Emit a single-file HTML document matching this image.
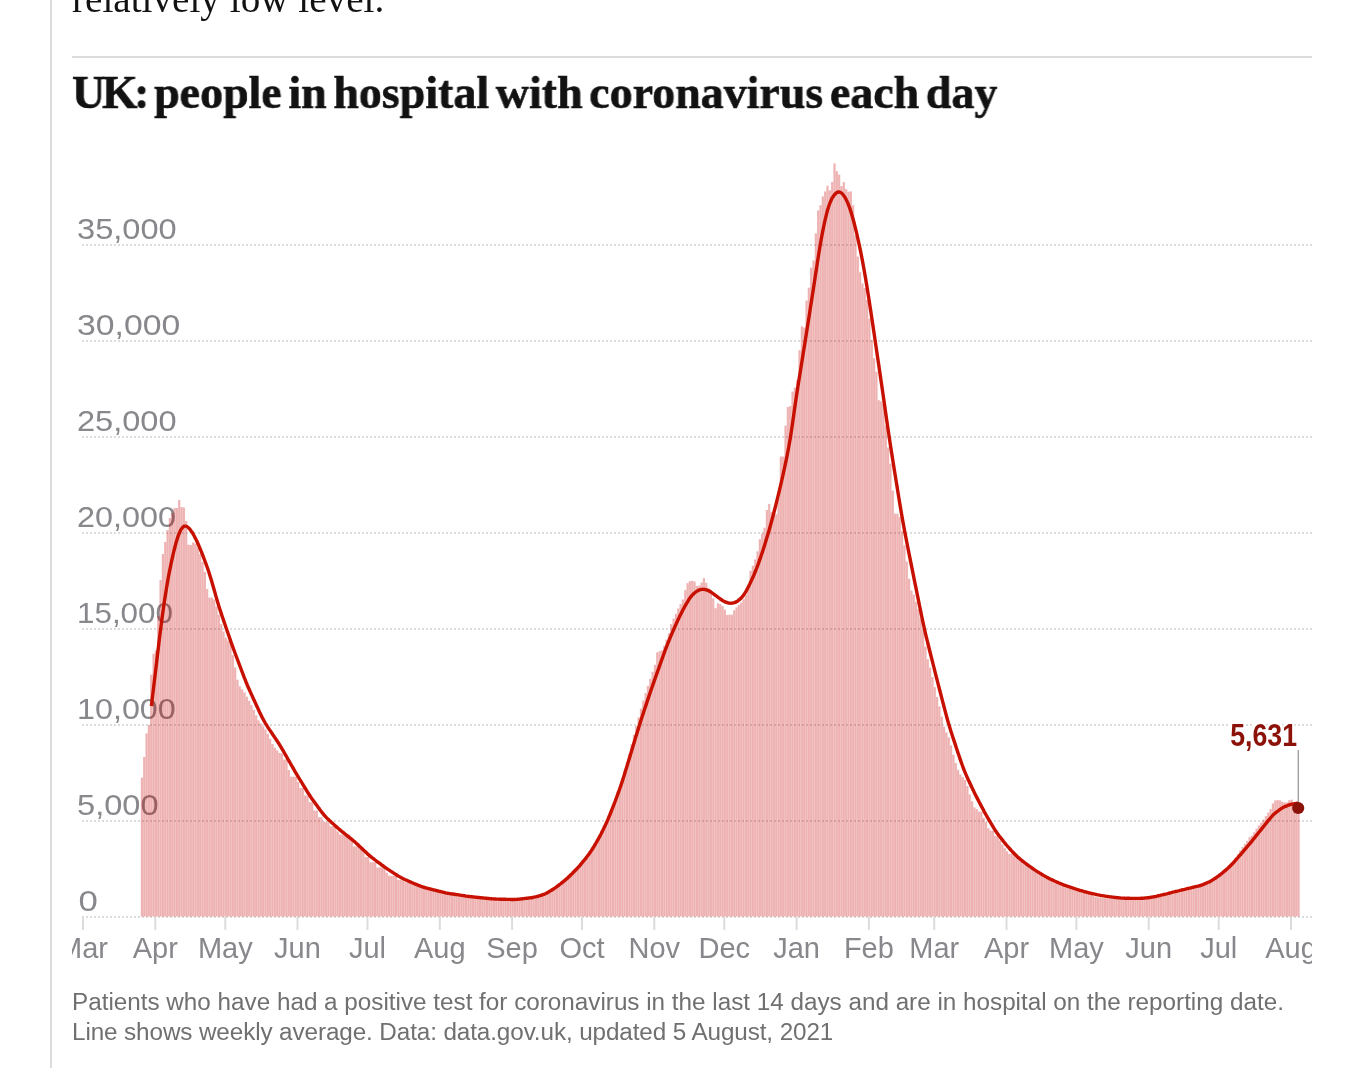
<!DOCTYPE html>
<html><head><meta charset="utf-8"><style>
html,body{margin:0;padding:0;background:#fff;}
body{width:1372px;height:1068px;overflow:hidden;position:relative;}
.vline{position:absolute;left:50px;top:0;width:2px;height:1068px;background:#dcdcdc;}
.top{position:absolute;left:72px;top:-26.5px;font-family:"Liberation Serif",serif;font-size:39.2px;color:#121212;white-space:nowrap;line-height:50px;will-change:transform;}
.rule{position:absolute;left:72px;top:56px;width:1240px;height:2px;background:#dcdcdc;}
.title{position:absolute;left:72px;top:67px;font-family:"Liberation Serif",serif;font-weight:bold;font-size:47px;color:#121212;white-space:nowrap;line-height:50px;transform-origin:0 0;transform:scaleX(0.978);word-spacing:-5px;-webkit-text-stroke:0.6px #121212;will-change:transform;}
.cap{position:absolute;left:72px;top:986.5px;font-family:"Liberation Sans",sans-serif;font-size:24.25px;color:#707070;white-space:nowrap;line-height:30px;will-change:transform;}
svg{position:absolute;left:0;top:0;will-change:transform;}
</style></head><body>
<div class="vline"></div>
<div class="top">relatively low level.</div>
<div class="rule"></div>
<div class="title"><span style="letter-spacing:-3.5px">UK</span><span style="word-spacing:-7px">: </span>people in hospital with coronavirus each day</div>
<svg width="1372" height="1068" viewBox="0 0 1372 1068">
<defs><clipPath id="cl"><rect x="72" y="120" width="1240" height="860"/></clipPath></defs>
<g clip-path="url(#cl)">
<g stroke="#dcdcdc" stroke-width="2" stroke-dasharray="2 2"><line x1="82" y1="917.0" x2="1312" y2="917.0"/><line x1="82" y1="821.0" x2="1312" y2="821.0"/><line x1="82" y1="725.0" x2="1312" y2="725.0"/><line x1="82" y1="629.0" x2="1312" y2="629.0"/><line x1="82" y1="533.0" x2="1312" y2="533.0"/><line x1="82" y1="437.0" x2="1312" y2="437.0"/><line x1="82" y1="341.0" x2="1312" y2="341.0"/><line x1="82" y1="245.0" x2="1312" y2="245.0"/></g>
<g fill="#88878c" font-family="Liberation Sans, sans-serif" font-size="29"><text x="78.5" y="911.5" transform="translate(78.5 0) scale(1.2 1) translate(-78.5 0)">0</text><text x="77" y="815.5" transform="translate(77 0) scale(1.125 1) translate(-77 0)">5,000</text><text x="77" y="719.5" transform="translate(77 0) scale(1.114 1) translate(-77 0)">10,000</text><text x="77" y="623.5" transform="translate(77 0) scale(1.082 1) translate(-77 0)">15,000</text><text x="77" y="527.5" transform="translate(77 0) scale(1.118 1) translate(-77 0)">20,000</text><text x="77" y="431.5" transform="translate(77 0) scale(1.123 1) translate(-77 0)">25,000</text><text x="77" y="335.5" transform="translate(77 0) scale(1.165 1) translate(-77 0)">30,000</text><text x="77" y="239.5" transform="translate(77 0) scale(1.125 1) translate(-77 0)">35,000</text></g>
<g fill="#c70000" fill-opacity="0.3"><rect x="140.80" y="777.7" width="2.18" height="138.8"/><rect x="143.13" y="757.0" width="2.18" height="159.5"/><rect x="145.46" y="733.4" width="2.18" height="183.1"/><rect x="147.80" y="725.0" width="2.18" height="191.5"/><rect x="150.13" y="674.7" width="2.18" height="241.8"/><rect x="152.46" y="653.7" width="2.18" height="262.8"/><rect x="154.79" y="650.4" width="2.18" height="266.1"/><rect x="157.12" y="616.0" width="2.18" height="300.5"/><rect x="159.46" y="580.0" width="2.18" height="336.5"/><rect x="161.79" y="554.0" width="2.18" height="362.5"/><rect x="164.12" y="542.0" width="2.18" height="374.5"/><rect x="166.45" y="530.0" width="2.18" height="386.5"/><rect x="168.78" y="518.0" width="2.18" height="398.5"/><rect x="171.12" y="513.0" width="2.18" height="403.5"/><rect x="173.45" y="508.0" width="2.18" height="408.5"/><rect x="175.78" y="508.0" width="2.18" height="408.5"/><rect x="178.11" y="500.0" width="2.18" height="416.5"/><rect x="180.44" y="507.0" width="2.18" height="409.5"/><rect x="182.78" y="507.5" width="2.18" height="409.0"/><rect x="185.11" y="521.0" width="2.18" height="395.5"/><rect x="187.44" y="544.6" width="2.18" height="371.9"/><rect x="189.77" y="545.0" width="2.18" height="371.5"/><rect x="192.10" y="542.5" width="2.18" height="374.0"/><rect x="194.44" y="543.5" width="2.18" height="373.0"/><rect x="196.77" y="547.7" width="2.18" height="368.8"/><rect x="199.10" y="554.0" width="2.18" height="362.5"/><rect x="201.43" y="562.0" width="2.18" height="354.5"/><rect x="203.76" y="572.0" width="2.18" height="344.5"/><rect x="206.10" y="589.0" width="2.18" height="327.5"/><rect x="208.43" y="597.6" width="2.18" height="318.9"/><rect x="210.76" y="597.6" width="2.18" height="318.9"/><rect x="213.09" y="599.4" width="2.18" height="317.1"/><rect x="215.42" y="606.6" width="2.18" height="309.9"/><rect x="217.76" y="614.7" width="2.18" height="301.8"/><rect x="220.09" y="624.1" width="2.18" height="292.4"/><rect x="222.42" y="631.5" width="2.18" height="285.0"/><rect x="224.75" y="637.7" width="2.18" height="278.8"/><rect x="227.08" y="640.7" width="2.18" height="275.8"/><rect x="229.42" y="643.0" width="2.18" height="273.5"/><rect x="231.75" y="655.1" width="2.18" height="261.4"/><rect x="234.08" y="667.4" width="2.18" height="249.1"/><rect x="236.41" y="679.7" width="2.18" height="236.8"/><rect x="238.74" y="686.3" width="2.18" height="230.2"/><rect x="241.08" y="689.3" width="2.18" height="227.2"/><rect x="243.41" y="692.4" width="2.18" height="224.1"/><rect x="245.74" y="696.7" width="2.18" height="219.8"/><rect x="248.07" y="700.9" width="2.18" height="215.6"/><rect x="250.40" y="705.1" width="2.18" height="211.4"/><rect x="252.74" y="710.0" width="2.18" height="206.5"/><rect x="255.07" y="715.4" width="2.18" height="201.1"/><rect x="257.40" y="720.3" width="2.18" height="196.2"/><rect x="259.73" y="723.4" width="2.18" height="193.1"/><rect x="262.06" y="726.5" width="2.18" height="190.0"/><rect x="264.40" y="729.6" width="2.18" height="186.9"/><rect x="266.73" y="733.8" width="2.18" height="182.7"/><rect x="269.06" y="738.9" width="2.18" height="177.6"/><rect x="271.39" y="744.1" width="2.18" height="172.4"/><rect x="273.72" y="747.8" width="2.18" height="168.7"/><rect x="276.06" y="750.3" width="2.18" height="166.2"/><rect x="278.39" y="752.9" width="2.18" height="163.6"/><rect x="280.72" y="753.5" width="2.18" height="163.0"/><rect x="283.05" y="759.5" width="2.18" height="157.0"/><rect x="285.38" y="759.5" width="2.18" height="157.0"/><rect x="287.72" y="770.0" width="2.18" height="146.5"/><rect x="290.05" y="776.7" width="2.18" height="139.8"/><rect x="292.38" y="776.7" width="2.18" height="139.8"/><rect x="294.71" y="776.7" width="2.18" height="139.8"/><rect x="297.04" y="782.0" width="2.18" height="134.5"/><rect x="299.38" y="788.0" width="2.18" height="128.5"/><rect x="301.71" y="788.0" width="2.18" height="128.5"/><rect x="304.04" y="795.5" width="2.18" height="121.0"/><rect x="306.37" y="795.5" width="2.18" height="121.0"/><rect x="308.70" y="802.2" width="2.18" height="114.3"/><rect x="311.04" y="802.2" width="2.18" height="114.3"/><rect x="313.37" y="810.5" width="2.18" height="106.0"/><rect x="315.70" y="810.5" width="2.18" height="106.0"/><rect x="318.03" y="817.2" width="2.18" height="99.3"/><rect x="320.36" y="817.2" width="2.18" height="99.3"/><rect x="322.70" y="821.7" width="2.18" height="94.8"/><rect x="325.03" y="821.7" width="2.18" height="94.8"/><rect x="327.36" y="821.7" width="2.18" height="94.8"/><rect x="329.69" y="826.2" width="2.18" height="90.3"/><rect x="332.02" y="826.2" width="2.18" height="90.3"/><rect x="334.36" y="826.2" width="2.18" height="90.3"/><rect x="336.69" y="831.5" width="2.18" height="85.0"/><rect x="339.02" y="834.5" width="2.18" height="82.0"/><rect x="341.35" y="834.5" width="2.18" height="82.0"/><rect x="343.68" y="834.5" width="2.18" height="82.0"/><rect x="346.02" y="834.5" width="2.18" height="82.0"/><rect x="348.35" y="834.5" width="2.18" height="82.0"/><rect x="350.68" y="839.0" width="2.18" height="77.5"/><rect x="353.01" y="846.4" width="2.18" height="70.1"/><rect x="355.34" y="846.4" width="2.18" height="70.1"/><rect x="357.68" y="846.4" width="2.18" height="70.1"/><rect x="360.01" y="846.4" width="2.18" height="70.1"/><rect x="362.34" y="849.4" width="2.18" height="67.1"/><rect x="364.67" y="857.0" width="2.18" height="59.5"/><rect x="367.00" y="857.0" width="2.18" height="59.5"/><rect x="369.34" y="862.2" width="2.18" height="54.3"/><rect x="371.67" y="862.2" width="2.18" height="54.3"/><rect x="374.00" y="862.2" width="2.18" height="54.3"/><rect x="376.33" y="867.4" width="2.18" height="49.1"/><rect x="378.66" y="867.4" width="2.18" height="49.1"/><rect x="381.00" y="867.4" width="2.18" height="49.1"/><rect x="383.33" y="867.4" width="2.18" height="49.1"/><rect x="385.66" y="872.7" width="2.18" height="43.8"/><rect x="387.99" y="875.7" width="2.18" height="40.8"/><rect x="390.32" y="875.7" width="2.18" height="40.8"/><rect x="392.66" y="875.7" width="2.18" height="40.8"/><rect x="394.99" y="875.7" width="2.18" height="40.8"/><rect x="397.32" y="879.9" width="2.18" height="36.6"/><rect x="399.65" y="879.8" width="2.18" height="36.7"/><rect x="401.98" y="880.7" width="2.18" height="35.8"/><rect x="404.32" y="881.6" width="2.18" height="34.9"/><rect x="406.65" y="882.5" width="2.18" height="34.0"/><rect x="408.98" y="883.4" width="2.18" height="33.1"/><rect x="411.31" y="884.3" width="2.18" height="32.2"/><rect x="413.64" y="885.1" width="2.18" height="31.4"/><rect x="415.98" y="886.0" width="2.18" height="30.5"/><rect x="418.31" y="886.9" width="2.18" height="29.6"/><rect x="420.64" y="887.7" width="2.18" height="28.8"/><rect x="422.97" y="888.5" width="2.18" height="28.0"/><rect x="425.30" y="889.1" width="2.18" height="27.4"/><rect x="427.64" y="889.6" width="2.18" height="26.9"/><rect x="429.97" y="890.2" width="2.18" height="26.3"/><rect x="432.30" y="890.8" width="2.18" height="25.7"/><rect x="434.63" y="891.4" width="2.18" height="25.1"/><rect x="436.96" y="892.0" width="2.18" height="24.5"/><rect x="439.30" y="892.5" width="2.18" height="24.0"/><rect x="441.63" y="893.1" width="2.18" height="23.4"/><rect x="443.96" y="893.7" width="2.18" height="22.8"/><rect x="446.29" y="894.2" width="2.18" height="22.3"/><rect x="448.62" y="894.6" width="2.18" height="21.9"/><rect x="450.96" y="894.9" width="2.18" height="21.6"/><rect x="453.29" y="895.3" width="2.18" height="21.2"/><rect x="455.62" y="895.6" width="2.18" height="20.9"/><rect x="457.95" y="896.0" width="2.18" height="20.5"/><rect x="460.28" y="896.3" width="2.18" height="20.2"/><rect x="462.62" y="896.7" width="2.18" height="19.8"/><rect x="464.95" y="897.0" width="2.18" height="19.5"/><rect x="467.28" y="897.4" width="2.18" height="19.1"/><rect x="469.61" y="897.7" width="2.18" height="18.8"/><rect x="471.94" y="897.9" width="2.18" height="18.6"/><rect x="474.28" y="898.1" width="2.18" height="18.4"/><rect x="476.61" y="898.4" width="2.18" height="18.1"/><rect x="478.94" y="898.6" width="2.18" height="17.9"/><rect x="481.27" y="898.9" width="2.18" height="17.6"/><rect x="483.60" y="899.1" width="2.18" height="17.4"/><rect x="485.94" y="899.3" width="2.18" height="17.2"/><rect x="488.27" y="899.6" width="2.18" height="16.9"/><rect x="490.60" y="899.8" width="2.18" height="16.7"/><rect x="492.93" y="900.0" width="2.18" height="16.5"/><rect x="495.26" y="900.1" width="2.18" height="16.4"/><rect x="497.60" y="900.1" width="2.18" height="16.4"/><rect x="499.93" y="900.2" width="2.18" height="16.3"/><rect x="502.26" y="900.3" width="2.18" height="16.2"/><rect x="504.59" y="900.3" width="2.18" height="16.2"/><rect x="506.92" y="900.4" width="2.18" height="16.1"/><rect x="509.26" y="900.4" width="2.18" height="16.1"/><rect x="511.59" y="900.5" width="2.18" height="16.0"/><rect x="513.92" y="900.6" width="2.18" height="15.9"/><rect x="516.25" y="900.2" width="2.18" height="16.3"/><rect x="518.58" y="898.7" width="2.18" height="17.8"/><rect x="520.92" y="898.3" width="2.18" height="18.2"/><rect x="523.25" y="898.0" width="2.18" height="18.5"/><rect x="525.58" y="897.8" width="2.18" height="18.7"/><rect x="527.91" y="897.5" width="2.18" height="19.0"/><rect x="530.24" y="897.3" width="2.18" height="19.2"/><rect x="532.58" y="897.0" width="2.18" height="19.5"/><rect x="534.91" y="896.3" width="2.18" height="20.2"/><rect x="537.24" y="895.5" width="2.18" height="21.0"/><rect x="539.57" y="894.7" width="2.18" height="21.8"/><rect x="541.90" y="893.8" width="2.18" height="22.7"/><rect x="544.24" y="893.0" width="2.18" height="23.5"/><rect x="546.57" y="891.4" width="2.18" height="25.1"/><rect x="548.90" y="889.9" width="2.18" height="26.6"/><rect x="551.23" y="888.3" width="2.18" height="28.2"/><rect x="553.56" y="886.8" width="2.18" height="29.7"/><rect x="555.90" y="885.1" width="2.18" height="31.4"/><rect x="558.23" y="883.2" width="2.18" height="33.3"/><rect x="560.56" y="881.2" width="2.18" height="35.3"/><rect x="562.89" y="879.2" width="2.18" height="37.3"/><rect x="565.22" y="877.3" width="2.18" height="39.2"/><rect x="567.56" y="875.2" width="2.18" height="41.3"/><rect x="569.89" y="872.8" width="2.18" height="43.7"/><rect x="572.22" y="870.4" width="2.18" height="46.1"/><rect x="574.55" y="868.0" width="2.18" height="48.5"/><rect x="576.88" y="865.6" width="2.18" height="50.9"/><rect x="579.22" y="862.9" width="2.18" height="53.6"/><rect x="581.55" y="860.0" width="2.18" height="56.5"/><rect x="583.88" y="857.1" width="2.18" height="59.4"/><rect x="586.21" y="854.2" width="2.18" height="62.3"/><rect x="588.54" y="851.3" width="2.18" height="65.2"/><rect x="590.88" y="847.6" width="2.18" height="68.9"/><rect x="593.21" y="843.6" width="2.18" height="72.9"/><rect x="595.54" y="839.6" width="2.18" height="76.9"/><rect x="597.87" y="835.5" width="2.18" height="81.0"/><rect x="600.20" y="830.7" width="2.18" height="85.8"/><rect x="602.54" y="825.8" width="2.18" height="90.7"/><rect x="604.87" y="821.0" width="2.18" height="95.5"/><rect x="607.20" y="815.6" width="2.18" height="100.9"/><rect x="609.53" y="809.6" width="2.18" height="106.9"/><rect x="611.86" y="803.6" width="2.18" height="112.9"/><rect x="614.20" y="797.7" width="2.18" height="118.8"/><rect x="616.53" y="791.2" width="2.18" height="125.3"/><rect x="618.86" y="784.7" width="2.18" height="131.8"/><rect x="621.19" y="778.2" width="2.18" height="138.3"/><rect x="623.52" y="770.4" width="2.18" height="146.1"/><rect x="625.86" y="762.5" width="2.18" height="154.0"/><rect x="628.19" y="754.1" width="2.18" height="162.4"/><rect x="630.52" y="744.3" width="2.18" height="172.2"/><rect x="632.85" y="734.6" width="2.18" height="181.9"/><rect x="635.18" y="725.9" width="2.18" height="190.6"/><rect x="637.52" y="717.3" width="2.18" height="199.2"/><rect x="639.85" y="708.6" width="2.18" height="207.9"/><rect x="642.18" y="700.6" width="2.18" height="215.9"/><rect x="644.51" y="693.1" width="2.18" height="223.4"/><rect x="646.84" y="685.9" width="2.18" height="230.6"/><rect x="649.18" y="678.8" width="2.18" height="237.7"/><rect x="651.51" y="671.8" width="2.18" height="244.7"/><rect x="653.84" y="664.8" width="2.18" height="251.7"/><rect x="656.17" y="652.4" width="2.18" height="264.1"/><rect x="658.50" y="651.2" width="2.18" height="265.3"/><rect x="660.84" y="650.4" width="2.18" height="266.1"/><rect x="663.17" y="645.7" width="2.18" height="270.8"/><rect x="665.50" y="639.6" width="2.18" height="276.9"/><rect x="667.83" y="633.2" width="2.18" height="283.3"/><rect x="670.16" y="624.1" width="2.18" height="292.4"/><rect x="672.50" y="618.6" width="2.18" height="297.9"/><rect x="674.83" y="613.8" width="2.18" height="302.7"/><rect x="677.16" y="608.5" width="2.18" height="308.0"/><rect x="679.49" y="604.1" width="2.18" height="312.4"/><rect x="681.82" y="599.5" width="2.18" height="317.0"/><rect x="684.16" y="590.1" width="2.18" height="326.4"/><rect x="686.49" y="583.2" width="2.18" height="333.3"/><rect x="688.82" y="581.2" width="2.18" height="335.3"/><rect x="691.15" y="580.8" width="2.18" height="335.7"/><rect x="693.48" y="581.5" width="2.18" height="335.0"/><rect x="695.82" y="586.0" width="2.18" height="330.5"/><rect x="698.15" y="585.5" width="2.18" height="331.0"/><rect x="700.48" y="582.5" width="2.18" height="334.0"/><rect x="702.81" y="578.2" width="2.18" height="338.3"/><rect x="705.14" y="582.8" width="2.18" height="333.7"/><rect x="707.48" y="588.2" width="2.18" height="328.3"/><rect x="709.81" y="592.6" width="2.18" height="323.9"/><rect x="712.14" y="598.4" width="2.18" height="318.1"/><rect x="714.47" y="608.2" width="2.18" height="308.3"/><rect x="716.80" y="603.4" width="2.18" height="313.1"/><rect x="719.14" y="604.2" width="2.18" height="312.3"/><rect x="721.47" y="606.1" width="2.18" height="310.4"/><rect x="723.80" y="609.6" width="2.18" height="306.9"/><rect x="726.13" y="614.9" width="2.18" height="301.6"/><rect x="728.46" y="614.6" width="2.18" height="301.9"/><rect x="730.80" y="614.7" width="2.18" height="301.8"/><rect x="733.13" y="610.3" width="2.18" height="306.2"/><rect x="735.46" y="607.3" width="2.18" height="309.2"/><rect x="737.79" y="604.9" width="2.18" height="311.6"/><rect x="740.12" y="602.6" width="2.18" height="313.9"/><rect x="742.46" y="599.1" width="2.18" height="317.4"/><rect x="744.79" y="594.9" width="2.18" height="321.6"/><rect x="747.12" y="587.8" width="2.18" height="328.7"/><rect x="749.45" y="570.8" width="2.18" height="345.7"/><rect x="751.78" y="565.7" width="2.18" height="350.8"/><rect x="754.12" y="559.5" width="2.18" height="357.0"/><rect x="756.45" y="551.3" width="2.18" height="365.2"/><rect x="758.78" y="539.2" width="2.18" height="377.3"/><rect x="761.11" y="533.5" width="2.18" height="383.0"/><rect x="763.44" y="527.7" width="2.18" height="388.8"/><rect x="765.78" y="510.0" width="2.18" height="406.5"/><rect x="768.11" y="503.9" width="2.18" height="412.6"/><rect x="770.44" y="512.1" width="2.18" height="404.4"/><rect x="772.77" y="512.1" width="2.18" height="404.4"/><rect x="775.10" y="514.2" width="2.18" height="402.3"/><rect x="777.44" y="497.7" width="2.18" height="418.8"/><rect x="779.77" y="456.5" width="2.18" height="460.0"/><rect x="782.10" y="456.5" width="2.18" height="460.0"/><rect x="784.43" y="425.6" width="2.18" height="490.9"/><rect x="786.76" y="407.1" width="2.18" height="509.4"/><rect x="789.10" y="406.0" width="2.18" height="510.5"/><rect x="791.43" y="391.6" width="2.18" height="524.9"/><rect x="793.76" y="387.5" width="2.18" height="529.0"/><rect x="796.09" y="380.3" width="2.18" height="536.2"/><rect x="798.42" y="350.2" width="2.18" height="566.3"/><rect x="800.76" y="326.3" width="2.18" height="590.2"/><rect x="803.09" y="327.5" width="2.18" height="589.0"/><rect x="805.42" y="300.6" width="2.18" height="615.9"/><rect x="807.75" y="287.6" width="2.18" height="628.9"/><rect x="810.08" y="267.7" width="2.18" height="648.8"/><rect x="812.42" y="260.4" width="2.18" height="656.1"/><rect x="814.75" y="233.4" width="2.18" height="683.1"/><rect x="817.08" y="210.4" width="2.18" height="706.1"/><rect x="819.41" y="205.2" width="2.18" height="711.3"/><rect x="821.74" y="196.4" width="2.18" height="720.1"/><rect x="824.08" y="191.4" width="2.18" height="725.1"/><rect x="826.41" y="185.7" width="2.18" height="730.8"/><rect x="828.74" y="190.4" width="2.18" height="726.1"/><rect x="831.07" y="182.0" width="2.18" height="734.5"/><rect x="833.40" y="163.4" width="2.18" height="753.1"/><rect x="835.74" y="171.2" width="2.18" height="745.3"/><rect x="838.07" y="174.6" width="2.18" height="741.9"/><rect x="840.40" y="186.0" width="2.18" height="730.5"/><rect x="842.73" y="182.1" width="2.18" height="734.4"/><rect x="845.06" y="189.1" width="2.18" height="727.4"/><rect x="847.40" y="191.7" width="2.18" height="724.8"/><rect x="849.73" y="191.4" width="2.18" height="725.1"/><rect x="852.06" y="205.3" width="2.18" height="711.2"/><rect x="854.39" y="235.6" width="2.18" height="680.9"/><rect x="856.72" y="256.6" width="2.18" height="659.9"/><rect x="859.06" y="272.2" width="2.18" height="644.3"/><rect x="861.39" y="283.5" width="2.18" height="633.0"/><rect x="863.72" y="288.1" width="2.18" height="628.4"/><rect x="866.05" y="300.0" width="2.18" height="616.5"/><rect x="868.38" y="318.6" width="2.18" height="597.9"/><rect x="870.72" y="339.8" width="2.18" height="576.7"/><rect x="873.05" y="358.1" width="2.18" height="558.4"/><rect x="875.38" y="371.7" width="2.18" height="544.8"/><rect x="877.71" y="400.2" width="2.18" height="516.3"/><rect x="880.04" y="401.3" width="2.18" height="515.2"/><rect x="882.38" y="403.5" width="2.18" height="513.0"/><rect x="884.71" y="425.6" width="2.18" height="490.9"/><rect x="887.04" y="447.5" width="2.18" height="469.0"/><rect x="889.37" y="463.6" width="2.18" height="452.9"/><rect x="891.70" y="490.7" width="2.18" height="425.8"/><rect x="894.04" y="513.7" width="2.18" height="402.8"/><rect x="896.37" y="513.7" width="2.18" height="402.8"/><rect x="898.70" y="517.0" width="2.18" height="399.5"/><rect x="901.03" y="530.9" width="2.18" height="385.6"/><rect x="903.36" y="545.3" width="2.18" height="371.2"/><rect x="905.70" y="561.5" width="2.18" height="355.0"/><rect x="908.03" y="578.7" width="2.18" height="337.8"/><rect x="910.36" y="590.5" width="2.18" height="326.0"/><rect x="912.69" y="594.7" width="2.18" height="321.8"/><rect x="915.02" y="601.7" width="2.18" height="314.8"/><rect x="917.36" y="609.2" width="2.18" height="307.3"/><rect x="919.69" y="618.7" width="2.18" height="297.8"/><rect x="922.02" y="629.6" width="2.18" height="286.9"/><rect x="924.35" y="646.6" width="2.18" height="269.9"/><rect x="926.68" y="659.1" width="2.18" height="257.4"/><rect x="929.02" y="667.7" width="2.18" height="248.8"/><rect x="931.35" y="677.0" width="2.18" height="239.5"/><rect x="933.68" y="687.2" width="2.18" height="229.3"/><rect x="936.01" y="697.0" width="2.18" height="219.5"/><rect x="938.34" y="706.4" width="2.18" height="210.1"/><rect x="940.68" y="716.6" width="2.18" height="199.9"/><rect x="943.01" y="726.7" width="2.18" height="189.8"/><rect x="945.34" y="732.4" width="2.18" height="184.1"/><rect x="947.67" y="737.3" width="2.18" height="179.2"/><rect x="950.00" y="745.3" width="2.18" height="171.2"/><rect x="952.34" y="754.7" width="2.18" height="161.8"/><rect x="954.67" y="763.0" width="2.18" height="153.5"/><rect x="957.00" y="769.8" width="2.18" height="146.7"/><rect x="959.33" y="774.5" width="2.18" height="142.0"/><rect x="961.66" y="777.2" width="2.18" height="139.3"/><rect x="964.00" y="780.0" width="2.18" height="136.5"/><rect x="966.33" y="786.0" width="2.18" height="130.5"/><rect x="968.66" y="794.4" width="2.18" height="122.1"/><rect x="970.99" y="801.2" width="2.18" height="115.3"/><rect x="973.32" y="807.4" width="2.18" height="109.1"/><rect x="975.66" y="809.0" width="2.18" height="107.5"/><rect x="977.99" y="811.6" width="2.18" height="104.9"/><rect x="980.32" y="811.6" width="2.18" height="104.9"/><rect x="982.65" y="817.8" width="2.18" height="98.7"/><rect x="984.98" y="821.9" width="2.18" height="94.6"/><rect x="987.32" y="828.1" width="2.18" height="88.4"/><rect x="989.65" y="830.7" width="2.18" height="85.8"/><rect x="991.98" y="830.7" width="2.18" height="85.8"/><rect x="994.31" y="835.8" width="2.18" height="80.7"/><rect x="996.64" y="835.8" width="2.18" height="80.7"/><rect x="998.98" y="840.5" width="2.18" height="76.0"/><rect x="1001.31" y="844.6" width="2.18" height="71.9"/><rect x="1003.64" y="848.2" width="2.18" height="68.3"/><rect x="1005.97" y="851.3" width="2.18" height="65.2"/><rect x="1008.30" y="853.9" width="2.18" height="62.6"/><rect x="1010.64" y="853.9" width="2.18" height="62.6"/><rect x="1012.97" y="855.0" width="2.18" height="61.5"/><rect x="1015.30" y="857.6" width="2.18" height="58.9"/><rect x="1017.63" y="859.5" width="2.18" height="57.0"/><rect x="1019.96" y="861.4" width="2.18" height="55.1"/><rect x="1022.30" y="863.3" width="2.18" height="53.2"/><rect x="1024.63" y="865.1" width="2.18" height="51.4"/><rect x="1026.96" y="866.9" width="2.18" height="49.6"/><rect x="1029.29" y="868.5" width="2.18" height="48.0"/><rect x="1031.62" y="870.1" width="2.18" height="46.4"/><rect x="1033.96" y="871.7" width="2.18" height="44.8"/><rect x="1036.29" y="873.3" width="2.18" height="43.2"/><rect x="1038.62" y="874.7" width="2.18" height="41.8"/><rect x="1040.95" y="876.0" width="2.18" height="40.5"/><rect x="1043.28" y="877.4" width="2.18" height="39.1"/><rect x="1045.62" y="878.7" width="2.18" height="37.8"/><rect x="1047.95" y="880.0" width="2.18" height="36.5"/><rect x="1050.28" y="881.1" width="2.18" height="35.4"/><rect x="1052.61" y="882.3" width="2.18" height="34.2"/><rect x="1054.94" y="883.5" width="2.18" height="33.0"/><rect x="1057.28" y="884.6" width="2.18" height="31.9"/><rect x="1059.61" y="885.5" width="2.18" height="31.0"/><rect x="1061.94" y="886.4" width="2.18" height="30.1"/><rect x="1064.27" y="887.4" width="2.18" height="29.1"/><rect x="1066.60" y="888.3" width="2.18" height="28.2"/><rect x="1068.94" y="889.0" width="2.18" height="27.5"/><rect x="1071.27" y="889.7" width="2.18" height="26.8"/><rect x="1073.60" y="890.4" width="2.18" height="26.1"/><rect x="1075.93" y="891.1" width="2.18" height="25.4"/><rect x="1078.26" y="891.7" width="2.18" height="24.8"/><rect x="1080.60" y="892.2" width="2.18" height="24.3"/><rect x="1082.93" y="892.7" width="2.18" height="23.8"/><rect x="1085.26" y="893.1" width="2.18" height="23.4"/><rect x="1087.59" y="893.8" width="2.18" height="22.7"/><rect x="1089.92" y="894.8" width="2.18" height="21.7"/><rect x="1092.26" y="895.8" width="2.18" height="20.7"/><rect x="1094.59" y="896.8" width="2.18" height="19.7"/><rect x="1096.92" y="897.4" width="2.18" height="19.1"/><rect x="1099.25" y="897.7" width="2.18" height="18.8"/><rect x="1101.58" y="897.9" width="2.18" height="18.6"/><rect x="1103.92" y="898.2" width="2.18" height="18.3"/><rect x="1106.25" y="898.5" width="2.18" height="18.0"/><rect x="1108.58" y="898.8" width="2.18" height="17.7"/><rect x="1110.91" y="899.0" width="2.18" height="17.5"/><rect x="1113.24" y="899.1" width="2.18" height="17.4"/><rect x="1115.58" y="899.1" width="2.18" height="17.4"/><rect x="1117.91" y="899.2" width="2.18" height="17.3"/><rect x="1120.24" y="899.3" width="2.18" height="17.2"/><rect x="1122.57" y="899.3" width="2.18" height="17.2"/><rect x="1124.90" y="899.4" width="2.18" height="17.1"/><rect x="1127.24" y="899.4" width="2.18" height="17.1"/><rect x="1129.57" y="899.4" width="2.18" height="17.1"/><rect x="1131.90" y="899.4" width="2.18" height="17.1"/><rect x="1134.23" y="899.4" width="2.18" height="17.1"/><rect x="1136.56" y="899.4" width="2.18" height="17.1"/><rect x="1138.90" y="899.4" width="2.18" height="17.1"/><rect x="1141.23" y="899.2" width="2.18" height="17.3"/><rect x="1143.56" y="899.0" width="2.18" height="17.5"/><rect x="1145.89" y="898.7" width="2.18" height="17.8"/><rect x="1148.22" y="898.5" width="2.18" height="18.0"/><rect x="1150.56" y="898.2" width="2.18" height="18.3"/><rect x="1152.89" y="898.0" width="2.18" height="18.5"/><rect x="1155.22" y="897.6" width="2.18" height="18.9"/><rect x="1157.55" y="897.2" width="2.18" height="19.3"/><rect x="1159.88" y="896.7" width="2.18" height="19.8"/><rect x="1162.22" y="896.2" width="2.18" height="20.3"/><rect x="1164.55" y="895.8" width="2.18" height="20.7"/><rect x="1166.88" y="895.3" width="2.18" height="21.2"/><rect x="1169.21" y="894.8" width="2.18" height="21.7"/><rect x="1171.54" y="894.3" width="2.18" height="22.2"/><rect x="1173.88" y="893.7" width="2.18" height="22.8"/><rect x="1176.21" y="893.2" width="2.18" height="23.3"/><rect x="1178.54" y="892.6" width="2.18" height="23.9"/><rect x="1180.87" y="891.9" width="2.18" height="24.6"/><rect x="1183.20" y="891.2" width="2.18" height="25.3"/><rect x="1185.54" y="890.5" width="2.18" height="26.0"/><rect x="1187.87" y="889.7" width="2.18" height="26.8"/><rect x="1190.20" y="889.0" width="2.18" height="27.5"/><rect x="1192.53" y="888.3" width="2.18" height="28.2"/><rect x="1194.86" y="887.6" width="2.18" height="28.9"/><rect x="1197.20" y="886.8" width="2.18" height="29.7"/><rect x="1199.53" y="886.0" width="2.18" height="30.5"/><rect x="1201.86" y="885.1" width="2.18" height="31.4"/><rect x="1204.19" y="884.2" width="2.18" height="32.3"/><rect x="1206.52" y="883.4" width="2.18" height="33.1"/><rect x="1208.86" y="882.5" width="2.18" height="34.0"/><rect x="1211.19" y="881.6" width="2.18" height="34.9"/><rect x="1213.52" y="880.8" width="2.18" height="35.7"/><rect x="1215.85" y="878.6" width="2.18" height="37.9"/><rect x="1218.18" y="876.2" width="2.18" height="40.3"/><rect x="1220.52" y="873.7" width="2.18" height="42.8"/><rect x="1222.85" y="871.3" width="2.18" height="45.2"/><rect x="1225.18" y="868.8" width="2.18" height="47.7"/><rect x="1227.51" y="866.4" width="2.18" height="50.1"/><rect x="1229.84" y="863.7" width="2.18" height="52.8"/><rect x="1232.18" y="860.8" width="2.18" height="55.7"/><rect x="1234.51" y="857.5" width="2.18" height="59.0"/><rect x="1236.84" y="854.0" width="2.18" height="62.5"/><rect x="1239.17" y="850.4" width="2.18" height="66.1"/><rect x="1241.50" y="847.0" width="2.18" height="69.5"/><rect x="1243.84" y="844.1" width="2.18" height="72.4"/><rect x="1246.17" y="840.8" width="2.18" height="75.7"/><rect x="1248.50" y="837.2" width="2.18" height="79.3"/><rect x="1250.83" y="835.7" width="2.18" height="80.8"/><rect x="1253.16" y="832.3" width="2.18" height="84.2"/><rect x="1255.50" y="828.6" width="2.18" height="87.9"/><rect x="1257.83" y="825.4" width="2.18" height="91.1"/><rect x="1260.16" y="822.6" width="2.18" height="93.9"/><rect x="1262.49" y="819.6" width="2.18" height="96.9"/><rect x="1264.82" y="816.1" width="2.18" height="100.4"/><rect x="1267.16" y="812.6" width="2.18" height="103.9"/><rect x="1269.49" y="809.0" width="2.18" height="107.5"/><rect x="1271.82" y="803.4" width="2.18" height="113.1"/><rect x="1274.15" y="800.5" width="2.18" height="116.0"/><rect x="1276.48" y="800.0" width="2.18" height="116.5"/><rect x="1278.82" y="800.3" width="2.18" height="116.2"/><rect x="1281.15" y="801.7" width="2.18" height="114.8"/><rect x="1283.48" y="802.4" width="2.18" height="114.1"/><rect x="1285.81" y="802.4" width="2.18" height="114.1"/><rect x="1288.14" y="800.3" width="2.18" height="116.2"/><rect x="1290.48" y="799.6" width="2.18" height="116.9"/><rect x="1292.81" y="802.4" width="2.18" height="114.1"/><rect x="1295.14" y="802.4" width="2.18" height="114.1"/><rect x="1297.47" y="802.4" width="2.18" height="114.1"/></g>
<g stroke="#dcdcdc" stroke-width="2"><line x1="83.0" y1="917" x2="83.0" y2="930"/><line x1="155.3" y1="917" x2="155.3" y2="930"/><line x1="225.3" y1="917" x2="225.3" y2="930"/><line x1="297.5" y1="917" x2="297.5" y2="930"/><line x1="367.5" y1="917" x2="367.5" y2="930"/><line x1="439.8" y1="917" x2="439.8" y2="930"/><line x1="512.1" y1="917" x2="512.1" y2="930"/><line x1="582.0" y1="917" x2="582.0" y2="930"/><line x1="654.3" y1="917" x2="654.3" y2="930"/><line x1="724.3" y1="917" x2="724.3" y2="930"/><line x1="796.6" y1="917" x2="796.6" y2="930"/><line x1="868.9" y1="917" x2="868.9" y2="930"/><line x1="934.2" y1="917" x2="934.2" y2="930"/><line x1="1006.5" y1="917" x2="1006.5" y2="930"/><line x1="1076.4" y1="917" x2="1076.4" y2="930"/><line x1="1148.7" y1="917" x2="1148.7" y2="930"/><line x1="1218.7" y1="917" x2="1218.7" y2="930"/><line x1="1291.0" y1="917" x2="1291.0" y2="930"/></g>
<g fill="#88878c" font-family="Liberation Sans, sans-serif" font-size="29" text-anchor="middle"><text x="83.0" y="957.5">Mar</text><text x="155.3" y="957.5">Apr</text><text x="225.3" y="957.5">May</text><text x="297.5" y="957.5">Jun</text><text x="367.5" y="957.5">Jul</text><text x="439.8" y="957.5">Aug</text><text x="512.1" y="957.5">Sep</text><text x="582.0" y="957.5">Oct</text><text x="654.3" y="957.5">Nov</text><text x="724.3" y="957.5">Dec</text><text x="796.6" y="957.5">Jan</text><text x="868.9" y="957.5">Feb</text><text x="934.2" y="957.5">Mar</text><text x="1006.5" y="957.5">Apr</text><text x="1076.4" y="957.5">May</text><text x="1148.7" y="957.5">Jun</text><text x="1218.7" y="957.5">Jul</text><text x="1291.0" y="957.5">Aug</text></g>
<path d="M151.4,706.0 C151.7,703.9 152.4,697.6 152.9,693.4 C153.4,689.2 153.9,685.0 154.4,680.8 C154.9,676.6 155.4,672.4 155.9,668.2 C156.4,663.9 156.9,659.7 157.4,655.5 C157.9,651.3 158.4,647.1 158.9,643.0 C159.4,638.9 159.9,634.8 160.4,630.9 C160.9,626.9 161.4,623.0 161.9,619.2 C162.4,615.5 162.9,611.8 163.4,608.3 C163.9,604.8 164.4,601.4 164.9,598.2 C165.4,594.9 165.9,591.7 166.4,588.7 C166.9,585.7 167.4,582.7 167.9,579.9 C168.4,577.1 168.9,574.4 169.4,571.9 C169.9,569.3 170.4,566.8 170.9,564.4 C171.4,562.1 171.9,559.8 172.4,557.6 C172.9,555.4 173.4,553.2 173.9,551.2 C174.4,549.1 174.9,547.2 175.4,545.3 C175.9,543.4 176.4,541.6 176.9,540.0 C177.4,538.3 177.9,536.8 178.4,535.4 C178.9,534.1 179.4,532.8 179.9,531.7 C180.4,530.6 180.9,529.7 181.4,528.9 C181.9,528.2 182.4,527.6 182.9,527.1 C183.4,526.7 183.9,526.4 184.4,526.2 C184.9,526.1 185.4,526.1 185.9,526.2 C186.4,526.3 186.9,526.5 187.4,526.9 C187.9,527.2 188.4,527.6 188.9,528.1 C189.4,528.7 189.9,529.3 190.4,529.9 C190.9,530.6 191.4,531.3 191.9,532.1 C192.4,532.8 192.9,533.7 193.4,534.5 C193.9,535.4 194.4,536.3 194.9,537.3 C195.4,538.2 195.9,539.2 196.4,540.3 C196.9,541.3 197.4,542.4 197.9,543.5 C198.4,544.6 198.9,545.8 199.4,547.0 C199.9,548.1 200.4,549.4 200.9,550.6 C201.4,551.8 201.9,553.1 202.4,554.4 C202.9,555.7 203.4,557.0 203.9,558.3 C204.4,559.6 204.9,561.0 205.4,562.3 C205.9,563.7 206.4,565.1 206.9,566.5 C207.4,567.9 207.9,569.3 208.4,570.8 C208.9,572.3 209.4,573.8 209.9,575.4 C210.4,577.0 210.9,578.6 211.4,580.3 C211.9,582.0 212.4,583.7 212.9,585.5 C213.4,587.2 213.9,589.0 214.4,590.8 C214.9,592.5 215.4,594.3 215.9,596.1 C216.4,597.8 216.9,599.5 217.4,601.2 C217.9,602.9 218.4,604.6 218.9,606.2 C219.4,607.8 219.9,609.4 220.4,610.9 C220.9,612.5 221.4,614.0 221.9,615.5 C222.4,617.0 222.9,618.4 223.4,619.9 C223.9,621.4 224.4,622.8 224.9,624.3 C225.4,625.8 225.9,627.2 226.4,628.7 C226.9,630.1 227.4,631.6 227.9,633.0 C228.4,634.5 228.9,635.9 229.4,637.4 C229.9,638.8 230.4,640.2 230.9,641.7 C231.4,643.1 231.9,644.5 232.4,645.9 C232.9,647.2 233.4,648.6 233.9,650.0 C234.4,651.3 234.9,652.7 235.4,654.0 C235.9,655.4 236.4,656.7 236.9,658.0 C237.4,659.4 237.9,660.7 238.4,662.0 C238.9,663.3 239.4,664.7 239.9,666.0 C240.4,667.3 240.9,668.7 241.4,670.0 C241.9,671.3 242.4,672.6 242.9,673.9 C243.4,675.3 243.9,676.6 244.4,677.9 C244.9,679.1 245.4,680.4 245.9,681.7 C246.4,682.9 246.9,684.1 247.4,685.3 C247.9,686.5 248.4,687.6 248.9,688.8 C249.4,689.9 249.9,691.0 250.4,692.1 C250.9,693.2 251.4,694.3 251.9,695.4 C252.4,696.5 252.9,697.6 253.4,698.7 C253.9,699.8 254.4,700.8 254.9,701.9 C255.4,703.0 255.9,704.1 256.4,705.2 C256.9,706.3 257.4,707.3 257.9,708.4 C258.4,709.5 258.9,710.6 259.4,711.7 C259.9,712.7 260.4,713.8 260.9,714.8 C261.4,715.9 261.9,716.9 262.4,717.9 C262.9,718.8 263.4,719.8 263.9,720.7 C264.4,721.6 264.9,722.4 265.4,723.3 C265.9,724.1 266.4,724.9 266.9,725.7 C267.4,726.5 267.9,727.2 268.4,728.0 C268.9,728.7 269.4,729.5 269.9,730.2 C270.4,730.9 270.9,731.7 271.4,732.4 C271.9,733.2 272.4,733.9 272.9,734.7 C273.4,735.4 273.9,736.1 274.4,736.9 C274.9,737.6 275.4,738.4 275.9,739.1 C276.4,739.9 276.9,740.6 277.4,741.4 C277.9,742.2 278.4,742.9 278.9,743.7 C279.4,744.5 279.9,745.3 280.4,746.1 C280.9,746.9 281.4,747.8 281.9,748.6 C282.4,749.5 282.9,750.3 283.4,751.2 C283.9,752.1 284.4,752.9 284.9,753.8 C285.4,754.7 285.9,755.5 286.4,756.4 C286.9,757.3 287.4,758.2 287.9,759.1 C288.4,759.9 288.9,760.8 289.4,761.7 C289.9,762.6 290.4,763.4 290.9,764.3 C291.4,765.2 291.9,766.1 292.4,766.9 C292.9,767.8 293.4,768.7 293.9,769.5 C294.4,770.4 294.9,771.2 295.4,772.1 C295.9,772.9 296.4,773.8 296.9,774.6 C297.4,775.4 297.9,776.3 298.4,777.1 C298.9,777.9 299.4,778.7 299.9,779.6 C300.4,780.4 300.9,781.2 301.4,782.0 C301.9,782.9 302.4,783.7 302.9,784.5 C303.4,785.3 303.9,786.2 304.4,787.0 C304.9,787.8 305.4,788.6 305.9,789.4 C306.4,790.2 306.9,791.1 307.4,791.9 C307.9,792.7 308.4,793.5 308.9,794.2 C309.4,795.0 309.9,795.8 310.4,796.5 C310.9,797.2 311.4,798.0 311.9,798.7 C312.4,799.4 312.9,800.1 313.4,800.8 C313.9,801.5 314.4,802.1 314.9,802.8 C315.4,803.5 315.9,804.2 316.4,804.9 C316.9,805.5 317.4,806.2 317.9,806.9 C318.4,807.6 318.9,808.2 319.4,808.9 C319.9,809.6 320.4,810.3 320.9,810.9 C321.4,811.6 321.9,812.3 322.4,812.9 C322.9,813.5 323.4,814.2 323.9,814.8 C324.4,815.4 324.9,815.9 325.4,816.5 C325.9,817.0 326.4,817.6 326.9,818.1 C327.4,818.6 327.9,819.0 328.4,819.5 C328.9,820.0 329.4,820.4 329.9,820.9 C330.4,821.4 330.9,821.8 331.4,822.3 C331.9,822.7 332.4,823.2 332.9,823.6 C333.4,824.1 333.9,824.5 334.4,825.0 C334.9,825.4 335.4,825.9 335.9,826.3 C336.4,826.8 336.9,827.2 337.4,827.6 C337.9,828.1 338.4,828.5 338.9,829.0 C339.4,829.4 339.9,829.8 340.4,830.2 C340.9,830.7 341.4,831.1 341.9,831.5 C342.4,831.9 342.9,832.3 343.4,832.7 C343.9,833.1 344.4,833.5 344.9,833.9 C345.4,834.3 345.9,834.7 346.4,835.1 C346.9,835.5 347.4,835.9 347.9,836.3 C348.4,836.7 348.9,837.1 349.4,837.5 C349.9,837.9 350.4,838.3 350.9,838.7 C351.4,839.1 351.9,839.5 352.4,839.9 C352.9,840.4 353.4,840.8 353.9,841.2 C354.4,841.6 354.9,842.1 355.4,842.5 C355.9,842.9 356.4,843.4 356.9,843.8 C357.4,844.3 357.9,844.8 358.4,845.2 C358.9,845.7 359.4,846.2 359.9,846.6 C360.4,847.1 360.9,847.6 361.4,848.1 C361.9,848.5 362.4,849.0 362.9,849.5 C363.4,850.0 363.9,850.4 364.4,850.9 C364.9,851.4 365.4,851.8 365.9,852.3 C366.4,852.8 366.9,853.2 367.4,853.7 C367.9,854.2 368.4,854.6 368.9,855.0 C369.4,855.5 369.9,855.9 370.4,856.3 C370.9,856.8 371.4,857.2 371.9,857.6 C372.4,858.0 372.9,858.3 373.4,858.7 C373.9,859.1 374.4,859.5 374.9,859.9 C375.4,860.2 375.9,860.6 376.4,861.0 C376.9,861.4 377.4,861.7 377.9,862.1 C378.4,862.5 378.9,862.8 379.4,863.2 C379.9,863.6 380.4,864.0 380.9,864.3 C381.4,864.7 381.9,865.1 382.4,865.4 C382.9,865.8 383.4,866.2 383.9,866.5 C384.4,866.9 384.9,867.2 385.4,867.6 C385.9,867.9 386.4,868.3 386.9,868.6 C387.4,868.9 387.9,869.3 388.4,869.6 C388.9,869.9 389.4,870.3 389.9,870.6 C390.4,870.9 390.9,871.3 391.4,871.6 C391.9,871.9 392.4,872.2 392.9,872.6 C393.4,872.9 393.9,873.2 394.4,873.5 C394.9,873.9 395.4,874.2 395.9,874.5 C396.4,874.8 396.9,875.2 397.4,875.5 C397.9,875.8 398.4,876.1 398.9,876.4 C399.4,876.7 399.9,877.0 400.4,877.2 C400.9,877.5 401.4,877.8 401.9,878.0 C402.4,878.3 402.9,878.5 403.4,878.8 C403.9,879.0 404.4,879.2 404.9,879.5 C405.4,879.7 405.9,879.9 406.4,880.2 C406.9,880.4 407.4,880.6 407.9,880.9 C408.4,881.1 408.9,881.3 409.4,881.6 C409.9,881.8 410.4,882.0 410.9,882.2 C411.4,882.4 411.9,882.7 412.4,882.9 C412.9,883.1 413.4,883.3 413.9,883.5 C414.4,883.7 414.9,883.9 415.4,884.1 C415.9,884.3 416.4,884.5 416.9,884.7 C417.4,884.9 417.9,885.1 418.4,885.3 C418.9,885.5 419.4,885.7 419.9,885.9 C420.4,886.1 420.9,886.3 421.4,886.5 C421.9,886.7 422.4,886.8 422.9,887.0 C423.4,887.2 423.9,887.3 424.4,887.5 C424.9,887.6 425.4,887.8 425.9,887.9 C426.4,888.1 426.9,888.2 427.4,888.3 C427.9,888.4 428.4,888.6 428.9,888.7 C429.4,888.8 429.9,888.9 430.4,889.1 C430.9,889.2 431.4,889.3 431.9,889.4 C432.4,889.6 432.9,889.7 433.4,889.8 C433.9,889.9 434.4,890.1 434.9,890.2 C435.4,890.3 435.9,890.4 436.4,890.6 C436.9,890.7 437.4,890.8 437.9,890.9 C438.4,891.1 438.9,891.2 439.4,891.3 C439.9,891.4 440.4,891.6 440.9,891.7 C441.4,891.8 441.9,891.9 442.4,892.0 C442.9,892.2 443.4,892.3 443.9,892.4 C444.4,892.5 444.9,892.6 445.4,892.8 C445.9,892.9 446.4,893.0 446.9,893.1 C447.4,893.2 447.9,893.2 448.4,893.3 C448.9,893.4 449.4,893.5 449.9,893.6 C450.4,893.7 450.9,893.7 451.4,893.8 C451.9,893.9 452.4,894.0 452.9,894.0 C453.4,894.1 453.9,894.2 454.4,894.3 C454.9,894.3 455.4,894.4 455.9,894.5 C456.4,894.6 456.9,894.6 457.4,894.7 C457.9,894.8 458.4,894.9 458.9,894.9 C459.4,895.0 459.9,895.1 460.4,895.2 C460.9,895.2 461.4,895.3 461.9,895.4 C462.4,895.5 462.9,895.5 463.4,895.6 C463.9,895.7 464.4,895.8 464.9,895.8 C465.4,895.9 465.9,896.0 466.4,896.1 C466.9,896.1 467.4,896.2 467.9,896.3 C468.4,896.3 468.9,896.4 469.4,896.5 C469.9,896.5 470.4,896.6 470.9,896.7 C471.4,896.7 471.9,896.8 472.4,896.8 C472.9,896.9 473.4,896.9 473.9,897.0 C474.4,897.1 474.9,897.1 475.4,897.2 C475.9,897.2 476.4,897.3 476.9,897.3 C477.4,897.4 477.9,897.4 478.4,897.5 C478.9,897.5 479.4,897.6 479.9,897.6 C480.4,897.7 480.9,897.7 481.4,897.8 C481.9,897.8 482.4,897.9 482.9,897.9 C483.4,898.0 483.9,898.0 484.4,898.1 C484.9,898.1 485.4,898.2 485.9,898.2 C486.4,898.3 486.9,898.3 487.4,898.4 C487.9,898.4 488.4,898.5 488.9,898.5 C489.4,898.6 489.9,898.6 490.4,898.7 C490.9,898.7 491.4,898.8 491.9,898.8 C492.4,898.9 492.9,898.9 493.4,898.9 C493.9,899.0 494.4,899.0 494.9,899.0 C495.4,899.0 495.9,899.1 496.4,899.1 C496.9,899.1 497.4,899.1 497.9,899.1 C498.4,899.1 498.9,899.1 499.4,899.2 C499.9,899.2 500.4,899.2 500.9,899.2 C501.4,899.2 501.9,899.2 502.4,899.2 C502.9,899.2 503.4,899.3 503.9,899.3 C504.4,899.3 504.9,899.3 505.4,899.3 C505.9,899.3 506.4,899.3 506.9,899.4 C507.4,899.4 507.9,899.4 508.4,899.4 C508.9,899.4 509.4,899.4 509.9,899.4 C510.4,899.4 510.9,899.5 511.4,899.5 C511.9,899.5 512.4,899.5 512.9,899.5 C513.4,899.5 513.9,899.5 514.4,899.5 C514.9,899.5 515.4,899.5 515.9,899.4 C516.4,899.4 516.9,899.4 517.4,899.3 C517.9,899.3 518.4,899.2 518.9,899.2 C519.4,899.1 519.9,899.1 520.4,899.0 C520.9,898.9 521.4,898.9 521.9,898.8 C522.4,898.7 522.9,898.7 523.4,898.6 C523.9,898.6 524.4,898.5 524.9,898.4 C525.4,898.4 525.9,898.3 526.4,898.3 C526.9,898.2 527.4,898.2 527.9,898.1 C528.4,898.0 528.9,898.0 529.4,897.9 C529.9,897.9 530.4,897.8 530.9,897.7 C531.4,897.7 531.9,897.6 532.4,897.5 C532.9,897.4 533.4,897.3 533.9,897.2 C534.4,897.1 534.9,897.0 535.4,896.9 C535.9,896.8 536.4,896.7 536.9,896.5 C537.4,896.4 537.9,896.3 538.4,896.1 C538.9,896.0 539.4,895.8 539.9,895.7 C540.4,895.5 540.9,895.4 541.4,895.2 C541.9,895.1 542.4,894.9 542.9,894.7 C543.4,894.5 543.9,894.4 544.4,894.2 C544.9,893.9 545.4,893.7 545.9,893.5 C546.4,893.2 546.9,893.0 547.4,892.7 C547.9,892.4 548.4,892.1 548.9,891.8 C549.4,891.5 549.9,891.2 550.4,890.9 C550.9,890.6 551.4,890.3 551.9,890.0 C552.4,889.7 552.9,889.3 553.4,889.0 C553.9,888.7 554.4,888.4 554.9,888.0 C555.4,887.7 555.9,887.4 556.4,887.0 C556.9,886.6 557.4,886.3 557.9,885.9 C558.4,885.5 558.9,885.1 559.4,884.7 C559.9,884.3 560.4,883.9 560.9,883.6 C561.4,883.2 561.9,882.7 562.4,882.3 C562.9,881.9 563.4,881.5 563.9,881.1 C564.4,880.7 564.9,880.3 565.4,879.9 C565.9,879.5 566.4,879.0 566.9,878.6 C567.4,878.2 567.9,877.7 568.4,877.2 C568.9,876.8 569.4,876.3 569.9,875.8 C570.4,875.3 570.9,874.8 571.4,874.4 C571.9,873.9 572.4,873.4 572.9,872.8 C573.4,872.3 573.9,871.8 574.4,871.3 C574.9,870.8 575.4,870.3 575.9,869.8 C576.4,869.3 576.9,868.8 577.4,868.2 C577.9,867.7 578.4,867.1 578.9,866.6 C579.4,866.0 579.9,865.4 580.4,864.8 C580.9,864.3 581.4,863.7 581.9,863.0 C582.4,862.4 582.9,861.8 583.4,861.2 C583.9,860.6 584.4,859.9 584.9,859.3 C585.4,858.7 585.9,858.1 586.4,857.4 C586.9,856.8 587.4,856.1 587.9,855.5 C588.4,854.8 588.9,854.1 589.4,853.4 C589.9,852.7 590.4,852.0 590.9,851.3 C591.4,850.5 591.9,849.8 592.4,849.0 C592.9,848.2 593.4,847.4 593.9,846.6 C594.4,845.8 594.9,844.9 595.4,844.1 C595.9,843.3 596.4,842.4 596.9,841.5 C597.4,840.7 597.9,839.8 598.4,838.9 C598.9,838.0 599.4,837.0 599.9,836.1 C600.4,835.2 600.9,834.2 601.4,833.2 C601.9,832.2 602.4,831.2 602.9,830.2 C603.4,829.2 603.9,828.2 604.4,827.1 C604.9,826.1 605.4,825.0 605.9,824.0 C606.4,822.9 606.9,821.8 607.4,820.6 C607.9,819.5 608.4,818.3 608.9,817.1 C609.4,815.9 609.9,814.7 610.4,813.5 C610.9,812.2 611.4,811.0 611.9,809.7 C612.4,808.4 612.9,807.2 613.4,805.9 C613.9,804.6 614.4,803.3 614.9,802.0 C615.4,800.7 615.9,799.3 616.4,798.0 C616.9,796.6 617.4,795.3 617.9,793.9 C618.4,792.5 618.9,791.1 619.4,789.7 C619.9,788.3 620.4,786.8 620.9,785.4 C621.4,783.9 621.9,782.4 622.4,780.9 C622.9,779.3 623.4,777.8 623.9,776.2 C624.4,774.6 624.9,773.0 625.4,771.3 C625.9,769.7 626.4,768.0 626.9,766.4 C627.4,764.7 627.9,763.0 628.4,761.4 C628.9,759.7 629.4,758.1 629.9,756.4 C630.4,754.8 630.9,753.1 631.4,751.4 C631.9,749.8 632.4,748.1 632.9,746.5 C633.4,744.9 633.9,743.2 634.4,741.6 C634.9,739.9 635.4,738.3 635.9,736.6 C636.4,735.0 636.9,733.3 637.4,731.7 C637.9,730.1 638.4,728.5 638.9,726.9 C639.4,725.3 639.9,723.7 640.4,722.1 C640.9,720.5 641.4,719.0 641.9,717.4 C642.4,715.9 642.9,714.4 643.4,712.9 C643.9,711.3 644.4,709.8 644.9,708.3 C645.4,706.8 645.9,705.4 646.4,703.9 C646.9,702.4 647.4,700.9 647.9,699.4 C648.4,697.9 648.9,696.4 649.4,694.9 C649.9,693.4 650.4,692.0 650.9,690.5 C651.4,689.1 651.9,687.6 652.4,686.2 C652.9,684.7 653.4,683.3 653.9,681.9 C654.4,680.5 654.9,679.1 655.4,677.6 C655.9,676.2 656.4,674.8 656.9,673.4 C657.4,672.0 657.9,670.6 658.4,669.2 C658.9,667.8 659.4,666.4 659.9,665.0 C660.4,663.6 660.9,662.2 661.4,660.8 C661.9,659.4 662.4,658.0 662.9,656.6 C663.4,655.2 663.9,653.8 664.4,652.4 C664.9,651.1 665.4,649.7 665.9,648.4 C666.4,647.1 666.9,645.8 667.4,644.5 C667.9,643.3 668.4,642.0 668.9,640.8 C669.4,639.6 669.9,638.3 670.4,637.1 C670.9,635.9 671.4,634.8 671.9,633.6 C672.4,632.4 672.9,631.3 673.4,630.1 C673.9,629.0 674.4,627.8 674.9,626.7 C675.4,625.6 675.9,624.5 676.4,623.4 C676.9,622.3 677.4,621.2 677.9,620.1 C678.4,619.1 678.9,618.0 679.4,617.0 C679.9,615.9 680.4,614.9 680.9,613.9 C681.4,612.9 681.9,611.9 682.4,610.9 C682.9,610.0 683.4,609.0 683.9,608.1 C684.4,607.2 684.9,606.3 685.4,605.4 C685.9,604.5 686.4,603.6 686.9,602.8 C687.4,601.9 687.9,601.1 688.4,600.3 C688.9,599.5 689.4,598.8 689.9,598.1 C690.4,597.4 690.9,596.7 691.4,596.1 C691.9,595.5 692.4,595.0 692.9,594.5 C693.4,594.0 693.9,593.5 694.4,593.1 C694.9,592.6 695.4,592.2 695.9,591.9 C696.4,591.5 696.9,591.2 697.4,591.0 C697.9,590.7 698.4,590.4 698.9,590.2 C699.4,590.0 699.9,589.8 700.4,589.7 C700.9,589.6 701.4,589.5 701.9,589.4 C702.4,589.3 702.9,589.3 703.4,589.4 C703.9,589.4 704.4,589.4 704.9,589.5 C705.4,589.6 705.9,589.8 706.4,589.9 C706.9,590.1 707.4,590.2 707.9,590.4 C708.4,590.6 708.9,590.9 709.4,591.2 C709.9,591.4 710.4,591.7 710.9,592.0 C711.4,592.4 711.9,592.7 712.4,593.1 C712.9,593.4 713.4,593.8 713.9,594.2 C714.4,594.5 714.9,594.9 715.4,595.3 C715.9,595.7 716.4,596.0 716.9,596.4 C717.4,596.8 717.9,597.2 718.4,597.6 C718.9,597.9 719.4,598.3 719.9,598.7 C720.4,599.1 720.9,599.4 721.4,599.8 C721.9,600.1 722.4,600.4 722.9,600.7 C723.4,601.0 723.9,601.3 724.4,601.5 C724.9,601.8 725.4,602.0 725.9,602.2 C726.4,602.4 726.9,602.6 727.4,602.7 C727.9,602.9 728.4,603.0 728.9,603.1 C729.4,603.1 729.9,603.2 730.4,603.2 C730.9,603.2 731.4,603.2 731.9,603.1 C732.4,603.1 732.9,603.0 733.4,602.9 C733.9,602.7 734.4,602.6 734.9,602.4 C735.4,602.2 735.9,602.0 736.4,601.7 C736.9,601.5 737.4,601.2 737.9,600.8 C738.4,600.5 738.9,600.1 739.4,599.7 C739.9,599.3 740.4,598.8 740.9,598.3 C741.4,597.8 741.9,597.2 742.4,596.6 C742.9,596.0 743.4,595.4 743.9,594.6 C744.4,593.9 744.9,593.2 745.4,592.3 C745.9,591.5 746.4,590.6 746.9,589.7 C747.4,588.8 747.9,587.8 748.4,586.8 C748.9,585.8 749.4,584.7 749.9,583.7 C750.4,582.6 750.9,581.6 751.4,580.5 C751.9,579.4 752.4,578.3 752.9,577.2 C753.4,576.1 753.9,575.0 754.4,573.8 C754.9,572.7 755.4,571.5 755.9,570.2 C756.4,569.0 756.9,567.7 757.4,566.3 C757.9,565.0 758.4,563.6 758.9,562.2 C759.4,560.8 759.9,559.4 760.4,557.9 C760.9,556.5 761.4,555.0 761.9,553.5 C762.4,552.0 762.9,550.5 763.4,548.9 C763.9,547.4 764.4,545.8 764.9,544.2 C765.4,542.6 765.9,541.0 766.4,539.3 C766.9,537.7 767.4,536.0 767.9,534.3 C768.4,532.6 768.9,530.9 769.4,529.2 C769.9,527.4 770.4,525.6 770.9,523.8 C771.4,522.0 771.9,520.1 772.4,518.2 C772.9,516.4 773.4,514.5 773.9,512.5 C774.4,510.6 774.9,508.7 775.4,506.7 C775.9,504.7 776.4,502.7 776.9,500.7 C777.4,498.7 777.9,496.7 778.4,494.6 C778.9,492.5 779.4,490.4 779.9,488.3 C780.4,486.2 780.9,484.0 781.4,481.9 C781.9,479.7 782.4,477.5 782.9,475.3 C783.4,473.0 783.9,470.8 784.4,468.5 C784.9,466.1 785.4,463.8 785.9,461.4 C786.4,459.0 786.9,456.6 787.4,454.1 C787.9,451.6 788.4,449.0 788.9,446.3 C789.4,443.5 789.9,440.6 790.4,437.6 C790.9,434.5 791.4,431.2 791.9,427.8 C792.4,424.4 792.9,420.8 793.4,417.3 C793.9,413.7 794.4,410.1 794.9,406.6 C795.4,403.1 795.9,399.7 796.4,396.4 C796.9,393.0 797.4,389.8 797.9,386.6 C798.4,383.4 798.9,380.3 799.4,377.2 C799.9,374.1 800.4,371.0 800.9,367.9 C801.4,364.8 801.9,361.6 802.4,358.5 C802.9,355.4 803.4,352.3 803.9,349.1 C804.4,346.0 804.9,342.8 805.4,339.7 C805.9,336.5 806.4,333.4 806.9,330.2 C807.4,327.0 807.9,323.9 808.4,320.7 C808.9,317.6 809.4,314.4 809.9,311.2 C810.4,308.0 810.9,304.9 811.4,301.6 C811.9,298.4 812.4,295.2 812.9,292.0 C813.4,288.7 813.9,285.5 814.4,282.2 C814.9,278.9 815.4,275.6 815.9,272.3 C816.4,269.1 816.9,265.8 817.4,262.6 C817.9,259.3 818.4,256.1 818.9,253.0 C819.4,249.9 819.9,246.9 820.4,244.0 C820.9,241.1 821.4,238.3 821.9,235.6 C822.4,232.9 822.9,230.4 823.4,227.9 C823.9,225.5 824.4,223.1 824.9,220.9 C825.4,218.7 825.9,216.6 826.4,214.6 C826.9,212.7 827.4,210.8 827.9,209.1 C828.4,207.4 828.9,205.9 829.4,204.5 C829.9,203.1 830.4,201.8 830.9,200.7 C831.4,199.6 831.9,198.6 832.4,197.7 C832.9,196.9 833.4,196.1 833.9,195.4 C834.4,194.7 834.9,194.2 835.4,193.7 C835.9,193.2 836.4,192.8 836.9,192.5 C837.4,192.2 837.9,192.1 838.4,192.0 C838.9,191.9 839.4,192.0 839.9,192.2 C840.4,192.3 840.9,192.6 841.4,193.0 C841.9,193.4 842.4,193.9 842.9,194.5 C843.4,195.1 843.9,195.7 844.4,196.5 C844.9,197.2 845.4,198.1 845.9,199.0 C846.4,200.0 846.9,201.0 847.4,202.1 C847.9,203.3 848.4,204.5 848.9,205.9 C849.4,207.2 849.9,208.6 850.4,210.1 C850.9,211.7 851.4,213.3 851.9,214.9 C852.4,216.6 852.9,218.4 853.4,220.3 C853.9,222.1 854.4,224.1 854.9,226.1 C855.4,228.1 855.9,230.1 856.4,232.2 C856.9,234.4 857.4,236.5 857.9,238.8 C858.4,241.0 858.9,243.3 859.4,245.7 C859.9,248.0 860.4,250.4 860.9,252.9 C861.4,255.4 861.9,258.0 862.4,260.6 C862.9,263.3 863.4,266.0 863.9,268.8 C864.4,271.6 864.9,274.4 865.4,277.4 C865.9,280.3 866.4,283.3 866.9,286.4 C867.4,289.5 867.9,292.6 868.4,295.8 C868.9,298.9 869.4,302.2 869.9,305.5 C870.4,308.7 870.9,312.1 871.4,315.4 C871.9,318.7 872.4,322.1 872.9,325.5 C873.4,328.8 873.9,332.2 874.4,335.6 C874.9,339.0 875.4,342.4 875.9,345.7 C876.4,349.1 876.9,352.5 877.4,355.9 C877.9,359.3 878.4,362.6 878.9,366.0 C879.4,369.4 879.9,372.9 880.4,376.3 C880.9,379.7 881.4,383.2 881.9,386.6 C882.4,390.1 882.9,393.6 883.4,397.0 C883.9,400.5 884.4,404.0 884.9,407.5 C885.4,410.9 885.9,414.4 886.4,417.9 C886.9,421.4 887.4,424.8 887.9,428.2 C888.4,431.6 888.9,435.0 889.4,438.3 C889.9,441.7 890.4,444.9 890.9,448.2 C891.4,451.4 891.9,454.6 892.4,457.8 C892.9,460.9 893.4,464.0 893.9,467.2 C894.4,470.3 894.9,473.4 895.4,476.5 C895.9,479.6 896.4,482.7 896.9,485.8 C897.4,488.9 897.9,492.0 898.4,495.1 C898.9,498.2 899.4,501.2 899.9,504.2 C900.4,507.2 900.9,510.2 901.4,513.1 C901.9,516.0 902.4,518.9 902.9,521.6 C903.4,524.4 903.9,527.1 904.4,529.8 C904.9,532.4 905.4,535.0 905.9,537.6 C906.4,540.2 906.9,542.7 907.4,545.3 C907.9,547.8 908.4,550.3 908.9,552.9 C909.4,555.4 909.9,557.9 910.4,560.4 C910.9,562.9 911.4,565.4 911.9,567.9 C912.4,570.4 912.9,572.9 913.4,575.3 C913.9,577.8 914.4,580.3 914.9,582.8 C915.4,585.2 915.9,587.7 916.4,590.2 C916.9,592.7 917.4,595.1 917.9,597.6 C918.4,600.1 918.9,602.6 919.4,605.0 C919.9,607.5 920.4,609.9 920.9,612.4 C921.4,614.8 921.9,617.2 922.4,619.6 C922.9,621.9 923.4,624.3 923.9,626.5 C924.4,628.8 924.9,631.0 925.4,633.1 C925.9,635.3 926.4,637.4 926.9,639.4 C927.4,641.5 927.9,643.5 928.4,645.5 C928.9,647.5 929.4,649.5 929.9,651.5 C930.4,653.5 930.9,655.5 931.4,657.5 C931.9,659.5 932.4,661.5 932.9,663.4 C933.4,665.4 933.9,667.4 934.4,669.4 C934.9,671.4 935.4,673.3 935.9,675.3 C936.4,677.3 936.9,679.2 937.4,681.2 C937.9,683.1 938.4,685.1 938.9,687.0 C939.4,689.0 939.9,690.9 940.4,692.8 C940.9,694.8 941.4,696.7 941.9,698.6 C942.4,700.6 942.9,702.5 943.4,704.4 C943.9,706.3 944.4,708.2 944.9,710.1 C945.4,712.0 945.9,713.9 946.4,715.7 C946.9,717.6 947.4,719.4 947.9,721.2 C948.4,722.9 948.9,724.6 949.4,726.3 C949.9,728.0 950.4,729.6 950.9,731.2 C951.4,732.8 951.9,734.3 952.4,735.9 C952.9,737.4 953.4,738.9 953.9,740.4 C954.4,741.9 954.9,743.4 955.4,744.9 C955.9,746.4 956.4,748.0 956.9,749.5 C957.4,751.0 957.9,752.5 958.4,754.0 C958.9,755.4 959.4,756.9 959.9,758.4 C960.4,759.9 960.9,761.4 961.4,762.8 C961.9,764.2 962.4,765.6 962.9,766.9 C963.4,768.3 963.9,769.6 964.4,770.8 C964.9,772.0 965.4,773.2 965.9,774.4 C966.4,775.5 966.9,776.6 967.4,777.8 C967.9,778.9 968.4,779.9 968.9,781.0 C969.4,782.1 969.9,783.2 970.4,784.2 C970.9,785.3 971.4,786.4 971.9,787.4 C972.4,788.5 972.9,789.5 973.4,790.6 C973.9,791.6 974.4,792.7 974.9,793.7 C975.4,794.7 975.9,795.7 976.4,796.7 C976.9,797.6 977.4,798.6 977.9,799.6 C978.4,800.6 978.9,801.5 979.4,802.5 C979.9,803.4 980.4,804.4 980.9,805.3 C981.4,806.3 981.9,807.2 982.4,808.2 C982.9,809.1 983.4,810.0 983.9,810.9 C984.4,811.9 984.9,812.8 985.4,813.7 C985.9,814.6 986.4,815.5 986.9,816.3 C987.4,817.2 987.9,818.1 988.4,818.9 C988.9,819.8 989.4,820.7 989.9,821.5 C990.4,822.4 990.9,823.2 991.4,824.0 C991.9,824.9 992.4,825.7 992.9,826.5 C993.4,827.4 993.9,828.2 994.4,829.0 C994.9,829.7 995.4,830.5 995.9,831.3 C996.4,832.0 996.9,832.7 997.4,833.4 C997.9,834.1 998.4,834.8 998.9,835.5 C999.4,836.1 999.9,836.8 1000.4,837.4 C1000.9,838.1 1001.4,838.7 1001.9,839.4 C1002.4,840.0 1002.9,840.7 1003.4,841.3 C1003.9,841.9 1004.4,842.6 1004.9,843.2 C1005.4,843.8 1005.9,844.4 1006.4,845.0 C1006.9,845.6 1007.4,846.2 1007.9,846.7 C1008.4,847.3 1008.9,847.9 1009.4,848.4 C1009.9,849.0 1010.4,849.5 1010.9,850.1 C1011.4,850.6 1011.9,851.2 1012.4,851.7 C1012.9,852.2 1013.4,852.8 1013.9,853.3 C1014.4,853.8 1014.9,854.3 1015.4,854.8 C1015.9,855.3 1016.4,855.8 1016.9,856.3 C1017.4,856.7 1017.9,857.2 1018.4,857.6 C1018.9,858.0 1019.4,858.4 1019.9,858.9 C1020.4,859.3 1020.9,859.7 1021.4,860.1 C1021.9,860.5 1022.4,860.9 1022.9,861.3 C1023.4,861.7 1023.9,862.1 1024.4,862.5 C1024.9,862.9 1025.4,863.3 1025.9,863.6 C1026.4,864.0 1026.9,864.4 1027.4,864.8 C1027.9,865.1 1028.4,865.5 1028.9,865.9 C1029.4,866.2 1029.9,866.6 1030.4,866.9 C1030.9,867.3 1031.4,867.6 1031.9,868.0 C1032.4,868.3 1032.9,868.7 1033.4,869.0 C1033.9,869.4 1034.4,869.7 1034.9,870.0 C1035.4,870.4 1035.9,870.7 1036.4,871.0 C1036.9,871.4 1037.4,871.7 1037.9,872.0 C1038.4,872.3 1038.9,872.6 1039.4,872.9 C1039.9,873.2 1040.4,873.5 1040.9,873.8 C1041.4,874.1 1041.9,874.4 1042.4,874.7 C1042.9,875.0 1043.4,875.3 1043.9,875.6 C1044.4,875.9 1044.9,876.2 1045.4,876.5 C1045.9,876.7 1046.4,877.0 1046.9,877.3 C1047.4,877.5 1047.9,877.8 1048.4,878.1 C1048.9,878.3 1049.4,878.6 1049.9,878.8 C1050.4,879.0 1050.9,879.3 1051.4,879.5 C1051.9,879.8 1052.4,880.0 1052.9,880.2 C1053.4,880.5 1053.9,880.7 1054.4,881.0 C1054.9,881.2 1055.4,881.4 1055.9,881.7 C1056.4,881.9 1056.9,882.1 1057.4,882.3 C1057.9,882.6 1058.4,882.8 1058.9,883.0 C1059.4,883.2 1059.9,883.4 1060.4,883.6 C1060.9,883.8 1061.4,884.0 1061.9,884.2 C1062.4,884.4 1062.9,884.6 1063.4,884.8 C1063.9,885.0 1064.4,885.1 1064.9,885.3 C1065.4,885.5 1065.9,885.7 1066.4,885.9 C1066.9,886.0 1067.4,886.2 1067.9,886.4 C1068.4,886.6 1068.9,886.7 1069.4,886.9 C1069.9,887.1 1070.4,887.2 1070.9,887.4 C1071.4,887.6 1071.9,887.7 1072.4,887.9 C1072.9,888.1 1073.4,888.2 1073.9,888.4 C1074.4,888.6 1074.9,888.7 1075.4,888.9 C1075.9,889.0 1076.4,889.2 1076.9,889.4 C1077.4,889.5 1077.9,889.7 1078.4,889.8 C1078.9,890.0 1079.4,890.1 1079.9,890.3 C1080.4,890.5 1080.9,890.6 1081.4,890.7 C1081.9,890.9 1082.4,891.0 1082.9,891.2 C1083.4,891.3 1083.9,891.5 1084.4,891.6 C1084.9,891.7 1085.4,891.9 1085.9,892.0 C1086.4,892.1 1086.9,892.3 1087.4,892.4 C1087.9,892.5 1088.4,892.7 1088.9,892.8 C1089.4,892.9 1089.9,893.1 1090.4,893.2 C1090.9,893.3 1091.4,893.4 1091.9,893.6 C1092.4,893.7 1092.9,893.8 1093.4,893.9 C1093.9,894.0 1094.4,894.1 1094.9,894.2 C1095.4,894.3 1095.9,894.4 1096.4,894.5 C1096.9,894.7 1097.4,894.8 1097.9,894.9 C1098.4,895.0 1098.9,895.1 1099.4,895.2 C1099.9,895.3 1100.4,895.4 1100.9,895.5 C1101.4,895.5 1101.9,895.6 1102.4,895.7 C1102.9,895.8 1103.4,895.9 1103.9,895.9 C1104.4,896.0 1104.9,896.1 1105.4,896.2 C1105.9,896.2 1106.4,896.3 1106.9,896.4 C1107.4,896.5 1107.9,896.5 1108.4,896.6 C1108.9,896.7 1109.4,896.7 1109.9,896.8 C1110.4,896.9 1110.9,896.9 1111.4,897.0 C1111.9,897.1 1112.4,897.1 1112.9,897.2 C1113.4,897.3 1113.9,897.3 1114.4,897.4 C1114.9,897.4 1115.4,897.5 1115.9,897.5 C1116.4,897.6 1116.9,897.6 1117.4,897.7 C1117.9,897.7 1118.4,897.8 1118.9,897.8 C1119.4,897.9 1119.9,897.9 1120.4,898.0 C1120.9,898.0 1121.4,898.0 1121.9,898.1 C1122.4,898.1 1122.9,898.1 1123.4,898.1 C1123.9,898.2 1124.4,898.2 1124.9,898.2 C1125.4,898.2 1125.9,898.2 1126.4,898.3 C1126.9,898.3 1127.4,898.3 1127.9,898.3 C1128.4,898.3 1128.9,898.3 1129.4,898.3 C1129.9,898.3 1130.4,898.4 1130.9,898.4 C1131.4,898.4 1131.9,898.4 1132.4,898.4 C1132.9,898.4 1133.4,898.4 1133.9,898.4 C1134.4,898.4 1134.9,898.4 1135.4,898.4 C1135.9,898.4 1136.4,898.4 1136.9,898.4 C1137.4,898.4 1137.9,898.4 1138.4,898.4 C1138.9,898.4 1139.4,898.4 1139.9,898.4 C1140.4,898.3 1140.9,898.3 1141.4,898.3 C1141.9,898.3 1142.4,898.2 1142.9,898.2 C1143.4,898.2 1143.9,898.1 1144.4,898.1 C1144.9,898.0 1145.4,898.0 1145.9,897.9 C1146.4,897.9 1146.9,897.8 1147.4,897.8 C1147.9,897.7 1148.4,897.7 1148.9,897.6 C1149.4,897.5 1149.9,897.5 1150.4,897.4 C1150.9,897.3 1151.4,897.3 1151.9,897.2 C1152.4,897.1 1152.9,897.0 1153.4,896.9 C1153.9,896.8 1154.4,896.7 1154.9,896.6 C1155.4,896.5 1155.9,896.4 1156.4,896.3 C1156.9,896.1 1157.4,896.0 1157.9,895.9 C1158.4,895.8 1158.9,895.7 1159.4,895.6 C1159.9,895.5 1160.4,895.3 1160.9,895.2 C1161.4,895.1 1161.9,895.0 1162.4,894.9 C1162.9,894.8 1163.4,894.6 1163.9,894.5 C1164.4,894.4 1164.9,894.3 1165.4,894.1 C1165.9,894.0 1166.4,893.9 1166.9,893.8 C1167.4,893.6 1167.9,893.5 1168.4,893.4 C1168.9,893.2 1169.4,893.1 1169.9,893.0 C1170.4,892.9 1170.9,892.7 1171.4,892.6 C1171.9,892.5 1172.4,892.4 1172.9,892.2 C1173.4,892.1 1173.9,892.0 1174.4,891.9 C1174.9,891.7 1175.4,891.6 1175.9,891.5 C1176.4,891.4 1176.9,891.2 1177.4,891.1 C1177.9,891.0 1178.4,890.9 1178.9,890.8 C1179.4,890.6 1179.9,890.5 1180.4,890.4 C1180.9,890.3 1181.4,890.1 1181.9,890.0 C1182.4,889.9 1182.9,889.8 1183.4,889.6 C1183.9,889.5 1184.4,889.4 1184.9,889.3 C1185.4,889.1 1185.9,889.0 1186.4,888.9 C1186.9,888.8 1187.4,888.6 1187.9,888.5 C1188.4,888.4 1188.9,888.2 1189.4,888.1 C1189.9,888.0 1190.4,887.9 1190.9,887.8 C1191.4,887.6 1191.9,887.5 1192.4,887.4 C1192.9,887.3 1193.4,887.2 1193.9,887.1 C1194.4,886.9 1194.9,886.8 1195.4,886.7 C1195.9,886.6 1196.4,886.5 1196.9,886.4 C1197.4,886.3 1197.9,886.2 1198.4,886.0 C1198.9,885.9 1199.4,885.8 1199.9,885.6 C1200.4,885.5 1200.9,885.3 1201.4,885.1 C1201.9,884.9 1202.4,884.7 1202.9,884.6 C1203.4,884.4 1203.9,884.2 1204.4,883.9 C1204.9,883.7 1205.4,883.5 1205.9,883.3 C1206.4,883.1 1206.9,882.9 1207.4,882.7 C1207.9,882.5 1208.4,882.2 1208.9,882.0 C1209.4,881.8 1209.9,881.5 1210.4,881.3 C1210.9,881.0 1211.4,880.7 1211.9,880.4 C1212.4,880.1 1212.9,879.8 1213.4,879.5 C1213.9,879.2 1214.4,878.8 1214.9,878.5 C1215.4,878.2 1215.9,877.8 1216.4,877.5 C1216.9,877.1 1217.4,876.8 1217.9,876.4 C1218.4,876.0 1218.9,875.7 1219.4,875.3 C1219.9,874.9 1220.4,874.6 1220.9,874.2 C1221.4,873.8 1221.9,873.4 1222.4,873.0 C1222.9,872.6 1223.4,872.1 1223.9,871.7 C1224.4,871.3 1224.9,870.8 1225.4,870.4 C1225.9,870.0 1226.4,869.5 1226.9,869.1 C1227.4,868.6 1227.9,868.2 1228.4,867.7 C1228.9,867.3 1229.4,866.8 1229.9,866.3 C1230.4,865.8 1230.9,865.3 1231.4,864.8 C1231.9,864.3 1232.4,863.8 1232.9,863.3 C1233.4,862.8 1233.9,862.2 1234.4,861.6 C1234.9,861.1 1235.4,860.5 1235.9,859.9 C1236.4,859.4 1236.9,858.8 1237.4,858.2 C1237.9,857.7 1238.4,857.1 1238.9,856.5 C1239.4,855.9 1239.9,855.3 1240.4,854.8 C1240.9,854.2 1241.4,853.6 1241.9,853.0 C1242.4,852.4 1242.9,851.8 1243.4,851.2 C1243.9,850.6 1244.4,850.0 1244.9,849.5 C1245.4,848.9 1245.9,848.3 1246.4,847.7 C1246.9,847.1 1247.4,846.5 1247.9,845.9 C1248.4,845.3 1248.9,844.7 1249.4,844.1 C1249.9,843.5 1250.4,842.9 1250.9,842.3 C1251.4,841.7 1251.9,841.1 1252.4,840.4 C1252.9,839.8 1253.4,839.2 1253.9,838.6 C1254.4,838.0 1254.9,837.4 1255.4,836.7 C1255.9,836.1 1256.4,835.5 1256.9,834.9 C1257.4,834.2 1257.9,833.6 1258.4,833.0 C1258.9,832.4 1259.4,831.7 1259.9,831.1 C1260.4,830.5 1260.9,829.9 1261.4,829.2 C1261.9,828.6 1262.4,828.0 1262.9,827.3 C1263.4,826.7 1263.9,826.1 1264.4,825.5 C1264.9,824.8 1265.4,824.2 1265.9,823.6 C1266.4,823.0 1266.9,822.3 1267.4,821.7 C1267.9,821.1 1268.4,820.5 1268.9,819.9 C1269.4,819.3 1269.9,818.6 1270.4,818.1 C1270.9,817.5 1271.4,816.9 1271.9,816.4 C1272.4,815.8 1272.9,815.3 1273.4,814.8 C1273.9,814.3 1274.4,813.9 1274.9,813.4 C1275.4,813.0 1275.9,812.6 1276.4,812.2 C1276.9,811.8 1277.4,811.4 1277.9,811.1 C1278.4,810.7 1278.9,810.3 1279.4,809.9 C1279.9,809.6 1280.4,809.2 1280.9,808.9 C1281.4,808.5 1281.9,808.2 1282.4,807.9 C1282.9,807.6 1283.4,807.3 1283.9,807.1 C1284.4,806.8 1284.9,806.6 1285.4,806.4 C1285.9,806.2 1286.4,806.0 1286.9,805.8 C1287.4,805.6 1287.9,805.4 1288.4,805.2 C1288.9,805.1 1289.4,804.9 1289.9,804.7 C1290.4,804.6 1290.9,804.4 1291.4,804.3 C1291.9,804.1 1292.4,804.0 1292.9,803.9 C1293.4,803.7 1293.9,803.6 1294.4,803.6 C1294.9,803.5 1295.4,803.4 1295.9,803.4 C1296.4,803.3 1297.1,803.3 1297.4,803.3 C1297.8,803.2 1297.9,803.2 1298.0,803.2" fill="none" stroke="#c71000" stroke-width="3.4" stroke-linejoin="round" stroke-linecap="butt"/>
<line x1="1298.3" y1="750" x2="1298.3" y2="808" stroke="#9a9a9a" stroke-width="1.3"/>
<circle cx="1298.2" cy="808" r="6.1" fill="#8c1209"/>
<text x="1297" y="745.8" text-anchor="end" transform="translate(1297 0) scale(0.875 1) translate(-1297 0)" font-family="Liberation Sans, sans-serif" font-weight="bold" font-size="30.5" fill="#8c1209" stroke="#fff" stroke-width="5" paint-order="stroke" stroke-linejoin="round">5,631</text>
</g>
</svg>
<div class="cap">Patients who have had a positive test for coronavirus in the last 14 days and are in hospital on the reporting date.<br><span style="letter-spacing:-0.1px">Line shows weekly average. Data: data.gov.uk, updated 5 August, 2021</span></div>
</body></html>
